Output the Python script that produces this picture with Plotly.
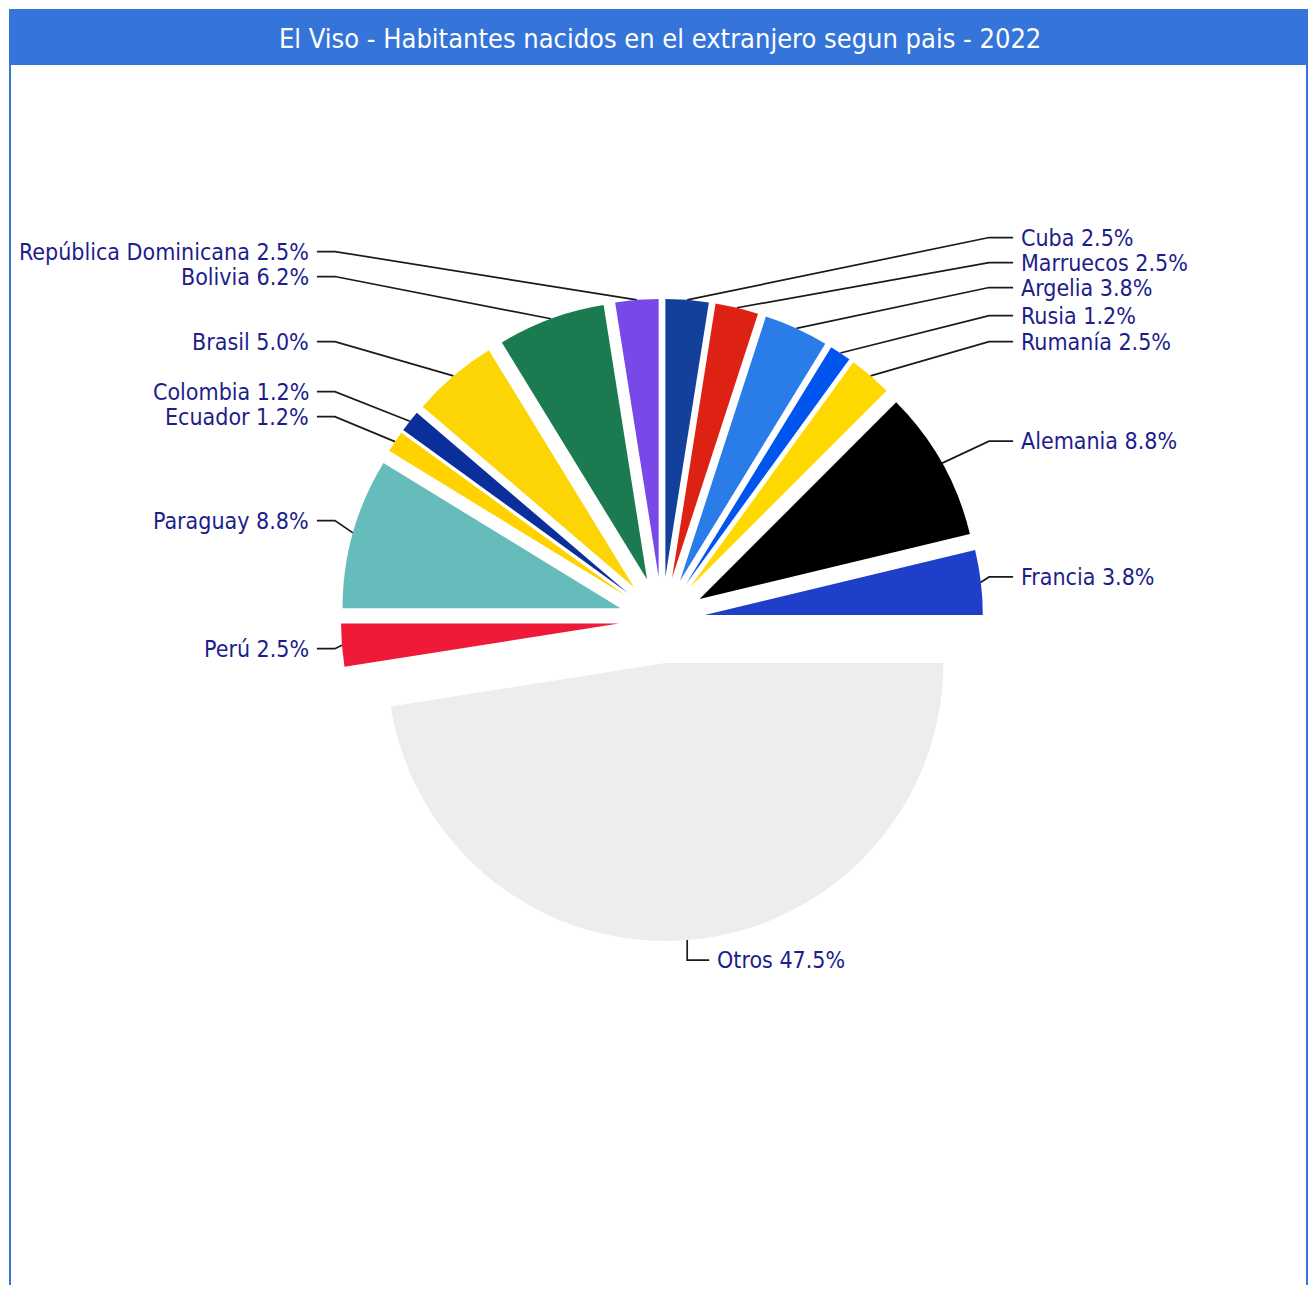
import math
import plotly.graph_objects as go

paises = ["Cuba", "Marruecos", "Argelia", "Rusia", "Rumanía", "Alemania", "Francia",
          "Otros", "Perú", "Paraguay", "Ecuador", "Colombia", "Brasil", "Bolivia",
          "República Dominicana"]
habitantes = [2, 2, 3, 1, 2, 7, 3, 38, 2, 7, 1, 1, 4, 5, 2]
colores = ["#12409a", "#dd2214", "#2a7de8", "#0055ee", "#ffd800", "#000000", "#1f3fcb",
           "#ededed", "#ee1a38", "#66bbbb", "#ffd200", "#0a2f9a", "#fdd404", "#1b7a50",
           "#7848e8"]
titulo = "El Viso - Habitantes nacidos en el extranjero segun pais - 2022"

# figure size in px (page body adds 8px margin)
W, H = 1300, 1277
CX, CY = 654, 612
R_PIE = 278
PULL = 0.155
R_OUT = R_PIE * (1 + PULL)
GAP = 25
FONT = "DejaVu Sans Condensed, DejaVu Sans, sans-serif"
AZUL = "#3574d8"
TXT = "#1d1d8c"

total = sum(habitantes)
textos = [f"{p} {v * 100 / total:.1f}%" for p, v in zip(paises, habitantes)]

# mid angles, clockwise from 12 o'clock
medios = []
acum = 0
for v in habitantes:
    medios.append(2 * math.pi * (acum + v / 2) / total)
    acum += v

fig = go.Figure()
fig.add_trace(go.Pie(
    labels=paises, values=habitantes, sort=False, direction="clockwise", rotation=0,
    pull=PULL, marker=dict(colors=colores, line=dict(width=0)),
    textinfo="none", hoverinfo="label+percent", showlegend=False,
    domain=dict(x=[(CX - R_OUT) / W, (CX + R_OUT) / W],
                y=[1 - (CY + R_OUT) / H, 1 - (CY - R_OUT) / H]),
))

# label placement
lados = {"der": [], "izq": [], "abajo": []}
anclas = {}
for i, m in enumerate(medios):
    ax = CX + R_OUT * math.sin(m)
    ay = CY - R_OUT * math.cos(m)
    ly = CY - (R_OUT + 45) * math.cos(m)
    anclas[i] = [ax, ay, ly]
    if math.cos(m) < -0.95:
        lados["abajo"].append(i)
    elif math.sin(m) > 0:
        lados["der"].append(i)
    else:
        lados["izq"].append(i)

# push crowded labels upwards
for lado in ("der", "izq"):
    orden = sorted(lados[lado], key=lambda k: anclas[k][2])
    for j in range(len(orden) - 2, -1, -1):
        a, b = orden[j], orden[j + 1]
        anclas[a][2] = min(anclas[a][2], anclas[b][2] - GAP)

lx, lyy = [], []
anots = []
for i in range(len(paises)):
    ax, ay, ly = anclas[i]
    if i in lados["der"]:
        lx += [ax, CX + R_OUT + 6, CX + R_OUT + 30, None]
        lyy += [ay, ly, ly, None]
        anots.append(dict(x=CX + R_OUT + 36, y=ly, text=textos[i], xanchor="left"))
    elif i in lados["izq"]:
        lx += [ax, CX - R_OUT - 6, CX - R_OUT - 24, None]
        lyy += [ay, ly, ly, None]
        anots.append(dict(x=CX - R_OUT - 30, y=ly, text=textos[i], xanchor="right"))
    else:
        lx += [ax, ax, ax + 22, None]
        lyy += [ay, ay + 20, ay + 20, None]
        anots.append(dict(x=ax + 28, y=ay + 20, text=textos[i], xanchor="left"))

fig.add_trace(go.Scatter(x=lx, y=lyy, mode="lines", line=dict(color="#1a1a1a", width=1.7),
                         hoverinfo="skip", showlegend=False))

for a in anots:
    fig.add_annotation(xref="x", yref="y", yanchor="middle", showarrow=False,
                       font=dict(family=FONT, size=23, color=TXT), **a)

# frame and title bar
fig.add_shape(type="rect", xref="x", yref="y", x0=2, x1=W - 1, y0=2, y1=H + 10,
              line=dict(color=AZUL, width=2), fillcolor="rgba(0,0,0,0)", layer="below")
fig.add_shape(type="rect", xref="x", yref="y", x0=2, x1=W - 1, y0=2, y1=57,
              line=dict(width=0), fillcolor=AZUL, layer="below")
fig.add_annotation(xref="x", yref="y", x=W / 2 + 2, y=30, text=titulo, showarrow=False,
                   font=dict(family=FONT, size=27, color="white"))

fig.update_xaxes(range=[0, W], visible=False, fixedrange=True)
fig.update_yaxes(range=[H, 0], visible=False, fixedrange=True)
fig.update_layout(width=W, height=H, autosize=False,
                  margin=dict(l=0, r=0, t=0, b=0, pad=0),
                  paper_bgcolor="white", plot_bgcolor="white")

fig.write_html("out.html")
